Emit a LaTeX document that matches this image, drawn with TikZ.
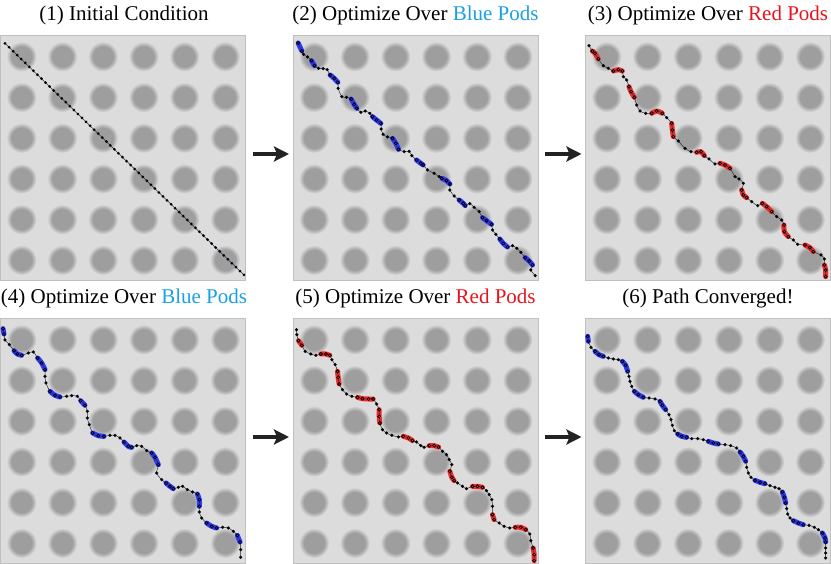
\documentclass[tikz,border=0pt]{standalone}
\usepackage{fontspec}
\setmainfont{Liberation Serif}
\usetikzlibrary{arrows.meta}
\definecolor{bgc}{RGB}{220,220,220}
\definecolor{podc}{RGB}{158,158,158}
\definecolor{framec}{RGB}{192,192,192}
\definecolor{tblue}{RGB}{27,160,226}
\definecolor{tred}{RGB}{232,20,28}
\definecolor{hblue}{RGB}{45,55,245}
\definecolor{hred}{RGB}{240,40,40}
\definecolor{linec}{RGB}{30,50,70}
\definecolor{arrc}{RGB}{34,34,34}
\pgfdeclareradialshading{pod}{\pgfpoint{0bp}{0bp}}{color(0bp)=(podc); color(17bp)=(podc); color(25bp)=(bgc); color(50bp)=(bgc)}
\newcommand\podgrid{\foreach \i in {0,...,5} {\foreach \j in {0,...,5} {\shade[shading=pod] ({21.5+40.7*\i},{21.5+40.7*\j}) circle (15pt);}}}
\newcommand\segsTwo{%
 \draw[hlcur] plot coordinates {(17,24) (28,48)};
 \draw[hlcur] plot coordinates {(57,77) (66,92)};
 \draw[hlcur] plot coordinates {(113,120) (125,130) (136,142)};
 \draw[hlcur] plot coordinates {(176,192) (185,208) (193,220)};
 \draw[hlcur] plot coordinates {(240,245) (252,255) (265,265)};
 \draw[hlcur] plot coordinates {(300,310) (310,325) (318,343)};
 \draw[hlcur] plot coordinates {(372,375) (385,385) (392,390)};
 \draw[hlcur] plot coordinates {(448,430) (462,437) (472,447)};
 \draw[hlcur] plot coordinates {(500,495) (512,505) (518,512)};
 \draw[hlcur] plot coordinates {(570,548) (582,557) (597,568)};
 \draw[hlcur] plot coordinates {(622,612) (632,625) (645,636)};
 \draw[hlcur] plot coordinates {(698,668) (710,678) (720,690)};
}
\newcommand\segsThree{%
 \draw[hlcur] plot coordinates {(22,48) (30,55) (40,72)};
 \draw[hlcur] plot coordinates {(85,108) (100,104) (112,108)};
 \draw[hlcur] plot coordinates {(132,155) (138,170) (148,187)};
 \draw[hlcur] plot coordinates {(200,235) (215,228) (232,235)};
 \draw[hlcur] plot coordinates {(260,265) (262,285) (265,305)};
 \draw[hlcur] plot coordinates {(335,352) (348,350) (358,362)};
 \draw[hlcur] plot coordinates {(405,385) (420,390) (435,400)};
 \draw[hlcur] plot coordinates {(470,465) (475,480) (485,488)};
 \draw[hlcur] plot coordinates {(532,505) (545,515) (560,530)};
 \draw[hlcur] plot coordinates {(597,570) (598,590) (610,605)};
 \draw[hlcur] plot coordinates {(660,630) (675,638) (685,650)};
 \draw[hlcur] plot coordinates {(718,690) (722,705) (722,725)};
}
\newcommand\segsFour{%
 \draw[hlcur] plot coordinates {(9,32) (12,48)};
 \draw[hlcur] plot coordinates {(42,98) (52,108) (65,112)};
 \draw[hlcur] plot coordinates {(113,120) (125,135) (135,155)};
 \draw[hlcur] plot coordinates {(150,220) (165,232) (180,237)};
 \draw[hlcur] plot coordinates {(242,248) (255,262)};
 \draw[hlcur] plot coordinates {(278,345) (295,353) (312,355)};
 \draw[hlcur] plot coordinates {(372,372) (385,385) (395,388)};
 \draw[hlcur] plot coordinates {(455,405) (465,418) (475,440)};
 \draw[hlcur] plot coordinates {(498,495) (510,505) (520,512)};
 \draw[hlcur] plot coordinates {(592,528) (598,545) (598,565)};
 \draw[hlcur] plot coordinates {(620,615) (635,625) (650,630)};
 \draw[hlcur] plot coordinates {(712,652) (720,672)};
}
\newcommand\segsFive{%
 \draw[hlcur] plot coordinates {(18,68) (28,82)};
 \draw[hlcur] plot coordinates {(85,108) (100,108) (112,112)};
 \draw[hlcur] plot coordinates {(135,160) (137,178) (140,198)};
 \draw[hlcur] plot coordinates {(195,238) (210,242) (228,243) (242,243)};
 \draw[hlcur] plot coordinates {(260,275) (260,295) (262,315)};
 \draw[hlcur] plot coordinates {(332,355) (348,360) (360,368)};
 \draw[hlcur] plot coordinates {(410,383) (425,383) (438,387)};
 \draw[hlcur] plot coordinates {(472,460) (478,478) (485,488)};
 \draw[hlcur] plot coordinates {(540,505) (555,505) (570,508)};
 \draw[hlcur] plot coordinates {(600,590) (605,605)};
 \draw[hlcur] plot coordinates {(668,628) (685,628) (700,635)};
 \draw[hlcur] plot coordinates {(722,690) (725,710) (725,728)};
}
\newcommand\segsSix{%
 \draw[hlcur] plot coordinates {(8,55) (10,70)};
 \draw[hlcur] plot coordinates {(30,100) (42,110) (55,115)};
 \draw[hlcur] plot coordinates {(112,130) (122,142) (128,160)};
 \draw[hlcur] plot coordinates {(148,220) (160,230) (175,238)};
 \draw[hlcur] plot coordinates {(225,250) (232,262) (242,275)};
 \draw[hlcur] plot coordinates {(278,348) (290,355) (305,358)};
 \draw[hlcur] plot coordinates {(370,370) (385,375) (400,378)};
 \draw[hlcur] plot coordinates {(465,402) (475,415) (482,430)};
 \draw[hlcur] plot coordinates {(510,487) (525,493) (540,497)};
 \draw[hlcur] plot coordinates {(592,522) (598,538) (602,555)};
 \draw[hlcur] plot coordinates {(625,608) (640,615) (655,620)};
 \draw[hlcur] plot coordinates {(712,645) (720,660) (722,672)};
}
\begin{document}
\begin{tikzpicture}[x=1pt,y=-1pt,
 panel/.style={rectangle, draw=framec, fill=bgc, line width=1pt, minimum width=245pt, minimum height=245pt, inner sep=0pt, outer sep=0pt, anchor=north west},
 title/.style={font=\fontsize{21}{25}\selectfont, anchor=base, inner sep=0pt},
 arr/.style={line width=4pt, draw=arrc, -{Stealth[length=15pt,width=15pt,inset=3pt]}},
 podpath/.style={draw=linec, line width=0.5pt, smooth, tension=0.5, mark=*, mark size=1.5pt, mark options={draw=black, fill=black, line width=0.2pt}},
 hlunder/.style={draw=#1, line width=5pt, line cap=round, line join=round, smooth, tension=0.5},
 hlover/.style={only marks, mark=*, mark size=1.5pt, mark options={draw=black, fill=#1, line width=0.6pt}},
 zoomu/.style={x=0.33333pt, y=-0.33333pt}]
\useasboundingbox (0,0) rectangle (831,564);
% panels
\node[panel] (p1) at (0.5,35.5) {};
\node[panel] (p2) at (293,35.5) {};
\node[panel] (p3) at (585.5,35.5) {};
\node[panel] (p4) at (0.5,318.5) {};
\node[panel] (p5) at (293,318.5) {};
\node[panel] (p6) at (585.5,318.5) {};
% titles
\node[title] (t1) at (124,20.5) {(1) Initial Condition};
\node[title] (t2) at (415.5,20.5) {(2) Optimize Over \textcolor{tblue}{Blue Pods}};
\node[title] (t3) at (708,20.5) {(3) Optimize Over \textcolor{tred}{Red Pods}};
\node[title] (t4) at (124,304) {(4) Optimize Over \textcolor{tblue}{Blue Pods}};
\node[title] (t5) at (415.5,304) {(5) Optimize Over \textcolor{tred}{Red Pods}};
\node[title] (t6) at (708,304) {(6) Path Converged!};
% panel 1
\begin{scope}[shift={(0,35)}]
 \podgrid
 \begin{scope}[zoomu]
  \draw[draw=linec, line width=0.5pt] (15,25) -- (732,720);
  \foreach \k in {0,...,59} {\fill[black] ({15+12.1525*\k},{25+11.7797*\k}) circle (1.5pt);}
 \end{scope}
\end{scope}
% panel 2
\begin{scope}[shift={(292.5,35)}]
 \podgrid
 \begin{scope}[zoomu]
  \begin{scope}[hlcur/.style={hlunder=hblue}]\segsTwo\end{scope}
  \draw[podpath] plot coordinates {(17,24) (28,48) (33,58) (45,66) (57,77) (66,92) (78,100) (92,101) (104,104) (113,120) (125,130) (136,142) (137,160) (148,185) (162,187) (176,192) (185,208) (193,220) (205,232) (218,228) (232,235) (240,245) (252,255) (265,265) (266,282) (272,298) (285,306) (300,310) (310,325) (318,343) (335,350) (350,349) (358,362) (372,375) (385,385) (392,390) (405,405) (425,415) (440,425) (448,430) (462,437) (472,447) (472,465) (485,483) (500,495) (512,505) (518,512) (532,506) (545,517) (560,530) (570,548) (582,557) (597,568) (600,585) (610,598) (622,612) (632,625) (645,636) (660,632) (673,640) (685,652) (698,668) (710,678) (720,690) (715,705) (728,722)};
  \begin{scope}[hlcur/.style={hlover=hblue}]\segsTwo\end{scope}
 \end{scope}
\end{scope}
% panel 3
\begin{scope}[shift={(585,35)}]
 \podgrid
 \begin{scope}[zoomu]
  \begin{scope}[hlcur/.style={hlunder=hred}]\segsThree\end{scope}
  \draw[podpath] plot coordinates {(12,32) (22,48) (30,55) (40,72) (55,92) (70,100) (85,108) (100,104) (112,108) (115,125) (125,135) (132,155) (138,170) (148,187) (155,210) (165,228) (182,235) (200,235) (215,228) (232,235) (245,248) (260,265) (262,285) (265,305) (280,318) (300,340) (318,350) (335,352) (348,350) (358,362) (372,372) (390,387) (405,385) (420,390) (435,400) (450,425) (462,432) (475,445) (470,465) (475,480) (485,488) (500,500) (518,512) (532,505) (545,515) (560,530) (575,545) (590,555) (597,570) (598,590) (610,605) (625,615) (638,628) (660,630) (675,638) (685,650) (708,660) (718,672) (718,690) (722,705) (722,725)};
  \begin{scope}[hlcur/.style={hlover=hred}]\segsThree\end{scope}
 \end{scope}
\end{scope}
% panel 4
\begin{scope}[shift={(0,318)}]
 \podgrid
 \begin{scope}[zoomu]
  \begin{scope}[hlcur/.style={hlunder=hblue}]\segsFour\end{scope}
  \draw[podpath] plot coordinates {(9,32) (12,48) (15,66) (28,80) (42,98) (52,108) (65,112) (85,105) (100,102) (113,120) (125,135) (135,155) (135,175) (138,195) (150,220) (165,232) (180,237) (200,235) (215,233) (232,235) (242,248) (255,262) (262,280) (262,300) (268,320) (278,345) (295,353) (312,355) (330,352) (345,352) (360,360) (372,372) (385,385) (395,388) (410,383) (425,385) (440,398) (455,405) (465,418) (475,440) (470,465) (485,485) (498,495) (510,505) (520,512) (535,508) (548,505) (562,515) (578,522) (592,528) (598,545) (598,565) (598,582) (605,600) (620,615) (635,625) (650,630) (668,628) (685,630) (700,640) (712,652) (720,672) (722,695) (722,718)};
  \begin{scope}[hlcur/.style={hlover=hblue}]\segsFour\end{scope}
 \end{scope}
\end{scope}
% panel 5
\begin{scope}[shift={(292.5,318)}]
 \podgrid
 \begin{scope}[zoomu]
  \begin{scope}[hlcur/.style={hlunder=hred}]\segsFive\end{scope}
  \draw[podpath] plot coordinates {(12,35) (13,50) (18,68) (28,82) (38,100) (55,108) (70,112) (85,108) (100,108) (112,112) (118,125) (128,140) (135,160) (137,178) (140,198) (150,215) (162,228) (178,235) (195,238) (210,242) (228,243) (242,243) (252,258) (260,275) (260,295) (262,315) (270,335) (282,345) (298,352) (318,357) (332,355) (348,360) (360,368) (372,372) (385,383) (395,388) (410,383) (425,383) (438,387) (450,400) (462,410) (470,425) (478,440) (472,460) (478,478) (485,488) (495,495) (510,505) (522,512) (540,505) (555,505) (570,508) (582,518) (590,530) (598,545) (600,565) (600,590) (605,605) (620,615) (635,625) (652,630) (668,628) (685,628) (700,635) (712,648) (715,668) (722,690) (725,710) (725,728)};
  \begin{scope}[hlcur/.style={hlover=hred}]\segsFive\end{scope}
 \end{scope}
\end{scope}
% panel 6
\begin{scope}[shift={(585,318)}]
 \podgrid
 \begin{scope}[zoomu]
  \begin{scope}[hlcur/.style={hlunder=hblue}]\segsSix\end{scope}
  \draw[podpath] plot coordinates {(8,55) (10,70) (18,88) (30,100) (42,110) (55,115) (70,120) (85,123) (100,125) (112,130) (122,142) (128,160) (132,175) (135,190) (140,205) (148,220) (160,230) (175,238) (192,240) (210,243) (225,250) (232,262) (242,275) (252,290) (258,305) (262,322) (268,338) (278,348) (290,355) (305,358) (320,362) (338,362) (355,365) (370,370) (385,375) (400,378) (420,380) (437,383) (455,390) (465,402) (475,415) (482,430) (485,448) (490,465) (498,478) (510,487) (525,493) (540,497) (555,503) (570,508) (582,512) (592,522) (598,538) (602,555) (605,572) (608,588) (615,600) (625,608) (640,615) (655,620) (672,622) (688,628) (700,635) (712,645) (720,660) (722,672) (722,690) (722,705) (722,720)};
  \begin{scope}[hlcur/.style={hlover=hblue}]\segsSix\end{scope}
 \end{scope}
\end{scope}
% arrows
\draw[arr] ([xshift=7pt,yshift=4pt]p1.east) -- ([xshift=-4pt,yshift=4pt]p2.west);
\draw[arr] ([xshift=7pt,yshift=4pt]p2.east) -- ([xshift=-4pt,yshift=4pt]p3.west);
\draw[arr] ([xshift=7pt,yshift=4pt]p4.east) -- ([xshift=-4pt,yshift=4pt]p5.west);
\draw[arr] ([xshift=7pt,yshift=4pt]p5.east) -- ([xshift=-4pt,yshift=4pt]p6.west);
\end{tikzpicture}
\end{document}
